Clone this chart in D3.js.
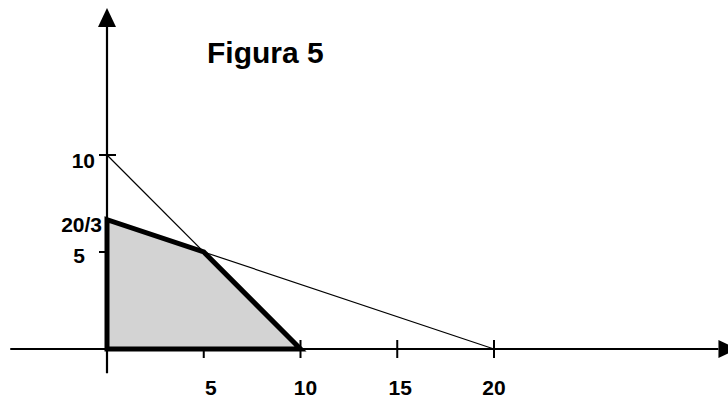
<!DOCTYPE html>
<html lang="es">
<head>
<meta charset="UTF-8">
<title>Figura 5</title>
<script src="https://d3js.org/d3.v7.min.js"></script>
<style>
    body { margin: 0; background: #fff; }
    svg { display: block; }
    .lbl { font-family: "Liberation Sans", Arial, sans-serif; font-weight: bold; fill: #000; }
</style>
</head>
<body>
<svg id="chart" width="728" height="403"></svg>
<script>
// feasible region vertices
const regionX = [0, 0, 5, 10];
const regionY = [0, 20 / 3, 5, 0];

// constraint lines (start / end points)
const lineX1 = [0, 5];
const lineY1 = [10, 5];
const lineX2 = [10, 20];
const lineY2 = [0, 0];

// ticks
const xTicks = [5, 10, 15, 20];
const xTickLabels = ["5", "10", "15", "20"];
const yTicks = [5, 20 / 3, 10];
const yTickLabels = ["5", "20/3", "10"];
const yTickMarks = [5, 10];

const svg = d3.select("#chart");

const x = d3.scaleLinear().domain([0, 10]).range([107, 300.5]);
const y = d3.scaleLinear().domain([0, 10]).range([349, 155]);

const xExtent = [-5, 31.6];
const yExtent = [-1.25, 16.6];

// tick marks (drawn first, region covers the inner half of some)
svg.append("g").selectAll("line.xt")
    .data(xTicks)
    .enter().append("line")
    .attr("x1", d => x(d)).attr("x2", d => x(d))
    .attr("y1", y(0) - 9).attr("y2", y(0) + 9)
    .attr("stroke", "#000").attr("stroke-width", 2);

svg.append("g").selectAll("line.yt")
    .data(yTickMarks)
    .enter().append("line")
    .attr("x1", x(0) - 8).attr("x2", x(0) + 9)
    .attr("y1", d => y(d)).attr("y2", d => y(d))
    .attr("stroke", "#000").attr("stroke-width", 2);

// axes
svg.append("line")
    .attr("x1", x(xExtent[0])).attr("x2", x(xExtent[1]))
    .attr("y1", y(0)).attr("y2", y(0))
    .attr("stroke", "#000").attr("stroke-width", 2.2);

svg.append("line")
    .attr("x1", x(0)).attr("x2", x(0))
    .attr("y1", y(yExtent[0])).attr("y2", y(yExtent[1]))
    .attr("stroke", "#000").attr("stroke-width", 2.2);

// arrow heads
const xa = x(xExtent[1]), ya = y(yExtent[1]);
svg.append("path")
    .attr("d", `M${xa},${y(0) - 9}L${xa + 19},${y(0)}L${xa},${y(0) + 9}Z`)
    .attr("fill", "#000");
svg.append("path")
    .attr("d", `M${x(0) - 9},${ya}L${x(0)},${ya - 19}L${x(0) + 9},${ya}Z`)
    .attr("fill", "#000");

// feasible region
const pts = regionX.map((d, i) => [x(d), y(regionY[i])]);
svg.append("path")
    .attr("d", d3.line()(pts) + "Z")
    .attr("fill", "#d3d3d3")
    .attr("stroke", "#000")
    .attr("stroke-width", 5)
    .attr("stroke-linejoin", "miter");

// thin constraint lines
svg.append("g").selectAll("line.c")
    .data(lineX1)
    .enter().append("line")
    .attr("x1", d => x(d))
    .attr("y1", (d, i) => y(lineY1[i]))
    .attr("x2", (d, i) => x(lineX2[i]))
    .attr("y2", (d, i) => y(lineY2[i]))
    .attr("stroke", "#000")
    .attr("stroke-width", 1.2);

// tick labels
const xShift = [7, 5, 3, 0];
svg.append("g").selectAll("text")
    .data(xTicks)
    .enter().append("text")
    .attr("class", "lbl")
    .attr("x", (d, i) => x(d) + xShift[i])
    .attr("y", y(0) + 46)
    .attr("text-anchor", "middle")
    .attr("font-size", 21)
    .text((d, i) => xTickLabels[i]);

const yShift = [-22, -5, -12];
const yDrop = [11, 12, 13];
svg.append("g").selectAll("text")
    .data(yTicks)
    .enter().append("text")
    .attr("class", "lbl")
    .attr("x", (d, i) => x(0) + yShift[i])
    .attr("y", (d, i) => y(d) + yDrop[i])
    .attr("text-anchor", "end")
    .attr("font-size", 21)
    .text((d, i) => yTickLabels[i]);

// title
svg.append("text")
    .attr("class", "lbl")
    .attr("x", 207)
    .attr("y", 63)
    .attr("font-size", 30)
    .text("Figura 5");
</script>
</body>
</html>
